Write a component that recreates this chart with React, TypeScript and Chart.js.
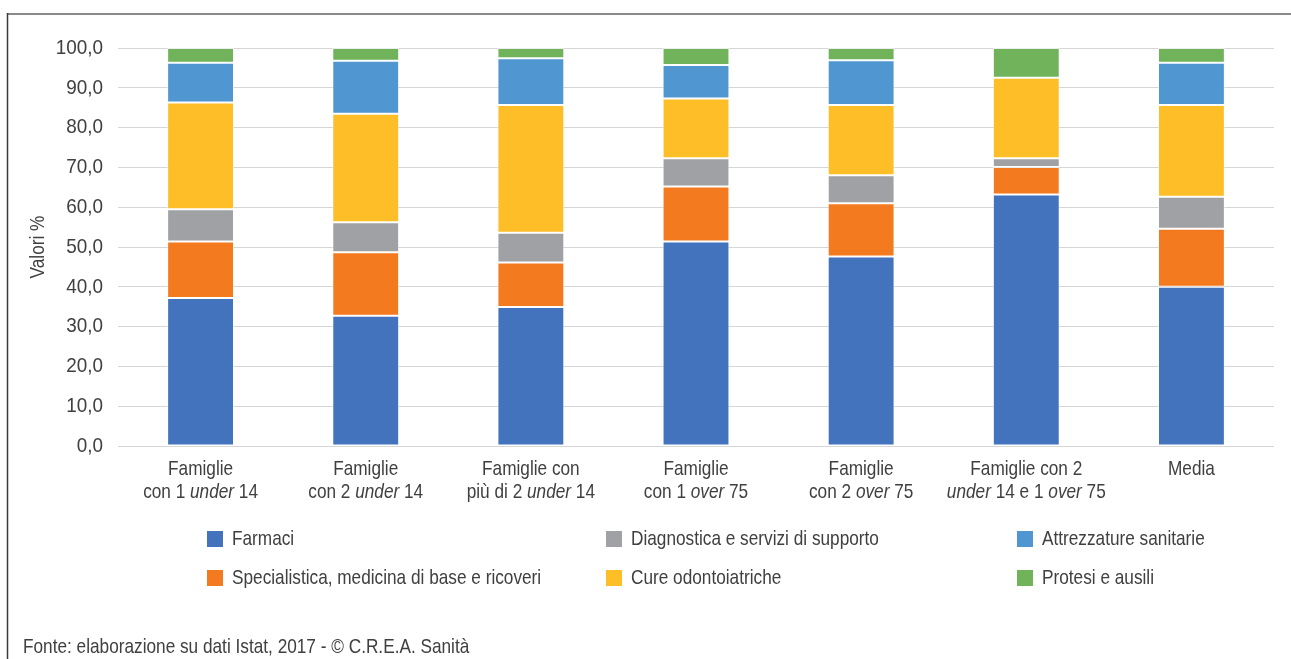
import React, { useEffect, useRef } from "react";
import { Chart, registerables } from "chart.js";

Chart.register(...registerables);

// ---- Data ----
const categories: string[][] = [
  ["Famiglie", "con 1 *under* 14"],
  ["Famiglie", "con 2 *under* 14"],
  ["Famiglie con", "più di 2 *under* 14"],
  ["Famiglie", "con 1 *over* 75"],
  ["Famiglie", "con 2 *over* 75"],
  ["Famiglie con 2", "*under* 14 e 1 *over* 75"],
  ["Media"],
];

const seriesNames = [
  "Farmaci",
  "Specialistica, medicina di base e ricoveri",
  "Diagnostica e servizi di supporto",
  "Cure odontoiatriche",
  "Attrezzature sanitarie",
  "Protesi e ausili",
];

const farmaci = [37.2, 32.7, 34.9, 51.4, 47.6, 63.2, 40.0];
const specialistica = [14.2, 16.0, 11.2, 13.8, 13.4, 6.9, 14.6];
const diagnostica = [8.1, 7.5, 7.5, 7.1, 7.0, 2.2, 8.0];
const cure = [26.8, 27.3, 32.1, 15.0, 17.7, 20.2, 23.1];
const attrezzature = [10.0, 13.3, 11.7, 8.4, 11.2, 0, 10.6];
const protesi = [3.7, 3.2, 2.6, 4.3, 3.1, 7.5, 3.7];

const yTicks = [0, 10, 20, 30, 40, 50, 60, 70, 80, 90, 100];
const yTitle = "Valori %";
const footer = "Fonte: elaborazione su dati Istat, 2017 - © C.R.E.A. Sanità";

const colors = ["#4273BC", "#F47A20", "#A0A1A5", "#FDBE28", "#5097D2", "#70B35A"];

const FONT = "'Liberation Sans', Arial, sans-serif";
const TEXT = "#404040";
const SX = 0.82; // horizontal condensing to emulate a narrow face
const SIZE = 21;

function fontStr(italic: boolean, size = SIZE) {
  return `${italic ? "italic " : ""}${size}px ${FONT}`;
}

// draw a text made of segments (italic between *...*) condensed horizontally
function drawRich(
  ctx: CanvasRenderingContext2D,
  text: string,
  x: number,
  y: number,
  align: "left" | "center" | "right",
  sx = SX,
  size = SIZE
) {
  const parts = text.split("*");
  const segs = parts.map((t, i) => ({ t, italic: i % 2 === 1 })).filter((s) => s.t.length > 0);
  const widths: number[] = [];
  let total = 0;
  for (const s of segs) {
    ctx.font = fontStr(s.italic, size);
    const w = ctx.measureText(s.t).width;
    widths.push(w);
    total += w;
  }
  let start = x / sx;
  if (align === "center") start -= total / 2;
  else if (align === "right") start -= total;
  ctx.save();
  ctx.scale(sx, 1);
  ctx.textAlign = "left";
  ctx.textBaseline = "middle";
  let cx = start;
  segs.forEach((s, i) => {
    ctx.font = fontStr(s.italic, size);
    ctx.fillText(s.t, cx, y);
    cx += widths[i];
  });
  ctx.restore();
}

const decorPlugin = {
  id: "decor",
  afterDraw(chart: any) {
    const ctx: CanvasRenderingContext2D = chart.ctx;
    const xScale = chart.scales.x;
    const yScale = chart.scales.y;
    ctx.save();
    // frame
    ctx.strokeStyle = "#8a8a8a";
    ctx.lineWidth = 2;
    ctx.beginPath();
    ctx.moveTo(7, 14);
    ctx.lineTo(1291, 14);
    ctx.stroke();
    ctx.strokeStyle = "#3a3a3a";
    ctx.lineWidth = 1.5;
    ctx.beginPath();
    ctx.moveTo(7.5, 13);
    ctx.lineTo(7.5, 659);
    ctx.stroke();

    ctx.fillStyle = TEXT;

    // y tick labels (positions from the library's scale)
    yScale.ticks.forEach((t: any) => {
      const py = yScale.getPixelForValue(t.value);
      drawRich(ctx, Number(t.value).toFixed(1).replace(".", ","), 103, py, "right", 0.9);
    });

    // x labels
    categories.forEach((lines, i) => {
      const cx = xScale.getPixelForValue(i);
      lines.forEach((ln, j) => drawRich(ctx, ln, cx, 469 + j * 23, "center"));
    });

    // y title
    ctx.save();
    ctx.translate(38, 247);
    ctx.rotate(-Math.PI / 2);
    drawRich(ctx, yTitle, 0, 0, "center");
    ctx.restore();

    // legend (column-major, 3 columns x 2 rows)
    const colX = [207, 606, 1017];
    const rowY = [539, 578];
    chart.data.datasets.forEach((ds: any, i: number) => {
      const c = Math.floor(i / 2);
      const r = i % 2;
      const x = colX[c];
      const y = rowY[r];
      ctx.fillStyle = ds.backgroundColor;
      ctx.fillRect(x, y - 8, 16, 16);
      ctx.fillStyle = TEXT;
      drawRich(ctx, ds.label, x + 25, y, "left");
    });

    // footer
    drawRich(ctx, footer, 23, 647, "left");
    ctx.restore();
  },
};

export default function App() {
  const ref = useRef<HTMLCanvasElement | null>(null);
  useEffect(() => {
    document.body.style.margin = "0";
    document.body.style.overflow = "hidden";
    const canvas = ref.current!;
    const series = [farmaci, specialistica, diagnostica, cure, attrezzature, protesi];
    const chart = new Chart(canvas, {
      type: "bar",
      data: {
        labels: categories.map((c) => c.join(" ").replace(/\*/g, "")),
        datasets: series.map((d, i) => ({
          label: seriesNames[i],
          data: d,
          backgroundColor: colors[i],
          borderColor: "rgba(255,255,255,0.55)",
          borderWidth: 1,
          borderSkipped: false,
          categoryPercentage: 0.5,
          barPercentage: 0.81,
        })),
      },
      options: {
        animation: false,
        responsive: false,
        devicePixelRatio: 1,
        layout: { padding: { top: 48, right: 17, bottom: 0, left: 0 } },
        plugins: { legend: { display: false }, tooltip: { enabled: false }, title: { display: false } },
        scales: {
          x: {
            stacked: true,
            grid: { display: false },
            border: { display: false },
            ticks: { display: false },
            afterFit: (s: any) => {
              s.height = 659 - 446;
            },
          },
          y: {
            stacked: true,
            min: 0,
            max: 100,
            afterBuildTicks: (s: any) => {
              s.ticks = yTicks.map((v) => ({ value: v }));
            },
            grid: { color: "#d6d6d6", lineWidth: 1, drawTicks: false },
            border: { display: false },
            ticks: {
              padding: 15,
              color: "rgba(0,0,0,0)",
              font: { family: FONT, size: 18 },
              callback: (v: any) => Number(v).toFixed(1).replace(".", ","),
            },
            afterFit: (s: any) => {
              s.width = 118;
            },
          },
        },
      },
      plugins: [decorPlugin],
    } as any);
    return () => chart.destroy();
  }, []);
  return (
    <div style={{ width: 1291, height: 659, background: "#fff" }}>
      <canvas ref={ref} width={1291} height={659} style={{ display: "block" }} />
    </div>
  );
}
